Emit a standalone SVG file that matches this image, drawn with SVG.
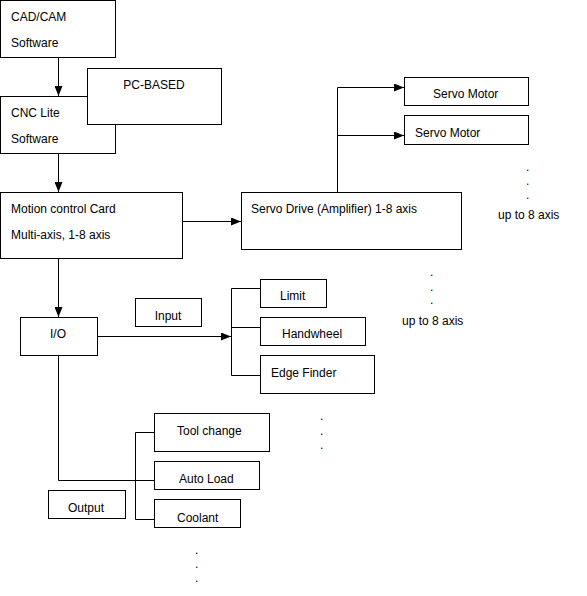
<svg xmlns="http://www.w3.org/2000/svg" width="587" height="596" viewBox="0 0 587 596">
<style>
rect{fill:#fff;stroke:#000;stroke-width:1}
text{font-family:"Liberation Sans",Arial,sans-serif;font-size:12px;fill:#000}
.c{text-anchor:middle}
.l{fill:none;stroke:#000;stroke-width:1}
</style>
<defs>
<marker id="a" markerWidth="10" markerHeight="8" refX="10" refY="4" orient="auto" markerUnits="userSpaceOnUse"><path d="M0,0 L10,4 L0,8 Z" fill="#000"/></marker>
</defs>
<g id="connectors">
<path class="l" d="M58.5,57 V96" marker-end="url(#a)"/>
<path class="l" d="M58.5,153 V192" marker-end="url(#a)"/>
<path class="l" d="M182,221.5 H241" marker-end="url(#a)"/>
<path class="l" d="M337.5,192 V87.5 H404" marker-end="url(#a)"/>
<path class="l" d="M337.5,135.5 H404" marker-end="url(#a)"/>
<path class="l" d="M58.5,259 V317" marker-end="url(#a)"/>
<path class="l" d="M97,336.5 H231" marker-end="url(#a)"/>
<path class="l" d="M260,288.5 H231.5 V375.5 H260 M231.5,327.5 H260"/>
<path class="l" d="M58.5,355 V480.5 H154"/>
<path class="l" d="M154,432.5 H135.5 V519.5 H154"/>
</g>
<g id="cadcam"><rect x="0.5" y="0.5" width="115" height="57"/><text x="11" y="21">CAD/CAM</text><text x="11" y="47">Software</text></g>
<g id="cnclite"><rect x="0.5" y="96.5" width="115" height="57"/><text x="11" y="117">CNC Lite</text><text x="11" y="143">Software</text></g>
<g id="pcbased"><rect x="87.5" y="68.5" width="134" height="56"/><text x="154" y="89" class="c">PC-BASED</text></g>
<g id="motion"><rect x="0.5" y="192.5" width="182" height="66"/><text x="11" y="213">Motion control Card</text><text x="11" y="239">Multi-axis, 1-8 axis</text></g>
<g id="servodrive"><rect x="241.5" y="192.5" width="220" height="57"/><text x="251" y="213">Servo Drive (Amplifier) 1-8 axis</text></g>
<g id="servomotor1"><rect x="404.5" y="77.5" width="124" height="28"/><text x="433" y="98">Servo Motor</text></g>
<g id="servomotor2"><rect x="404.5" y="115.5" width="124" height="29"/><text x="415" y="137">Servo Motor</text></g>
<g id="more1"><text x="526" y="171">.</text><text x="526" y="185">.</text><text x="526" y="199">.</text><text x="498" y="219">up to 8 axis</text></g>
<g id="io"><rect x="20.5" y="317.5" width="77" height="38"/><text x="58" y="338" class="c">I/O</text></g>
<g id="input"><rect x="135.5" y="298.5" width="66" height="28"/><text x="168" y="320" class="c">Input</text></g>
<g id="limit"><rect x="260.5" y="279.5" width="66" height="28"/><text x="280" y="300">Limit</text></g>
<g id="handwheel"><rect x="260.5" y="317.5" width="105" height="28"/><text x="282" y="338">Handwheel</text></g>
<g id="edgefinder"><rect x="260.5" y="355.5" width="114" height="38"/><text x="271" y="377">Edge Finder</text></g>
<g id="more2"><text x="430" y="276">.</text><text x="430" y="291">.</text><text x="430" y="304">.</text><text x="402" y="325">up to 8 axis</text></g>
<g id="toolchange"><rect x="154.5" y="413.5" width="115" height="38"/><text x="177" y="435">Tool change</text></g>
<g id="autoload"><rect x="154.5" y="461.5" width="105" height="28"/><text x="179" y="483">Auto Load</text></g>
<g id="coolant"><rect x="154.5" y="499.5" width="86" height="28"/><text x="177" y="522">Coolant</text></g>
<g id="output"><rect x="48.5" y="490.5" width="77" height="28"/><text x="68" y="512">Output</text></g>
<g id="more3"><text x="320" y="420">.</text><text x="320" y="435">.</text><text x="320" y="449">.</text><text x="195" y="554">.</text><text x="195" y="568">.</text><text x="195" y="582">.</text></g>
</svg>
